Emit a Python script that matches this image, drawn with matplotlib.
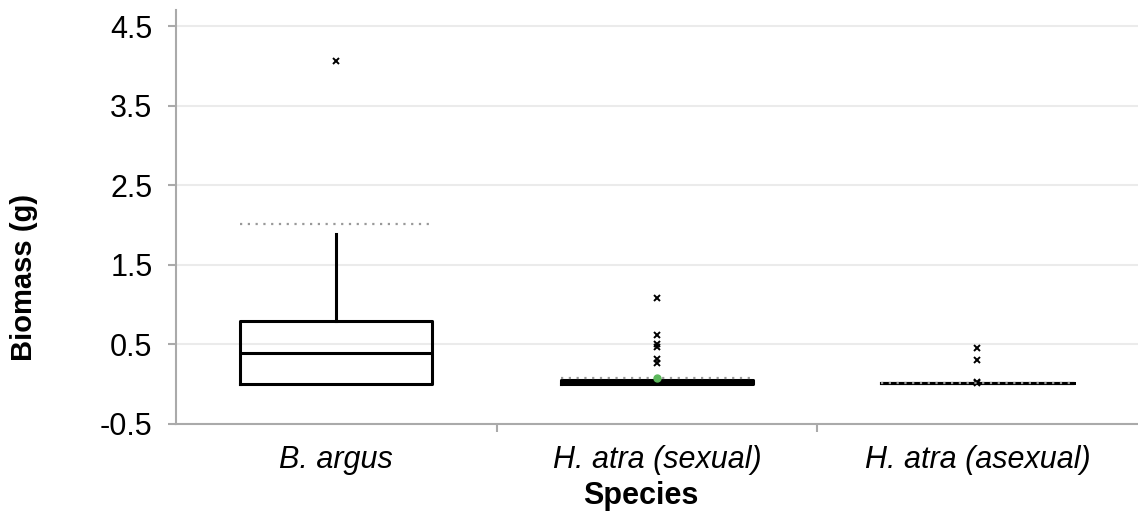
import matplotlib.pyplot as plt
import numpy as np

plt.rcParams['font.family'] = ['Liberation Sans', 'DejaVu Sans']

# data
species = ['B. argus', 'H. atra (sexual)', 'H. atra (asexual)']
q1 = [0.0, 0.0, 0.02]
med = [0.39, 0.02, 0.02]
q3 = [0.80, 0.055, 0.02]
whis_lo = [0.0, 0.0, 0.02]
whis_hi = [1.89, 0.055, 0.02]
outliers = [[4.06],
            [1.08, 0.62, 0.51, 0.47, 0.31, 0.27],
            [0.45, 0.30, 0.03, 0.02]]
cutoff = [2.01, 0.08, 0.02]   # grey dotted lines
mean_sexual = 0.08

stats = []
for i in range(3):
    stats.append(dict(label=species[i], q1=q1[i], med=med[i], q3=q3[i],
                      whislo=whis_lo[i], whishi=whis_hi[i], fliers=outliers[i]))

fig = plt.figure(figsize=(11.38, 5.12), dpi=100)
ax = fig.add_axes([0.1547, 0.172, 0.845, 0.808])

pos = np.arange(1, 4)
w = 0.6
ax.bxp(stats, positions=pos, widths=w, showcaps=False,
       boxprops=dict(color='black', linewidth=2.2),
       medianprops=dict(color='black', linewidth=2.2),
       whiskerprops=dict(color='black', linewidth=2.2),
       flierprops=dict(marker='x', markersize=4.5, markeredgecolor='black',
                       markeredgewidth=1.4, linestyle='none'),
       zorder=3)

# thick bar for the sexual group (very narrow box)
ax.hlines(0.025, pos[1] - w / 2, pos[1] + w / 2, color='black', linewidth=5, zorder=3)

for i in range(3):
    ax.hlines(cutoff[i], pos[i] - w / 2, pos[i] + w / 2, color='#999999',
              linestyle=(0, (1, 2.5)), linewidth=1.6, zorder=4)

ax.plot([pos[1]], [mean_sexual], 'o', color='#5cb85c', markersize=5, zorder=5)

ax.set_xlim(0.5, 3.5)
ax.set_ylim(-0.5, 4.7)
ax.set_yticks([-0.5, 0.5, 1.5, 2.5, 3.5, 4.5])
ax.set_yticklabels(['-0.5', '0.5', '1.5', '2.5', '3.5', '4.5'], fontsize=22)
ax.set_xticks(pos)
ax.set_xticklabels(species, fontsize=22, style='italic')
ax.tick_params(axis='x', length=0, pad=15)
ax.set_xticks([1.5, 2.5], minor=True)
ax.tick_params(axis='x', which='minor', length=6, color='#aaaaaa', width=1.5)
ax.tick_params(axis='y', length=6, color='#aaaaaa', width=1.5, pad=11)

ax.grid(axis='y', color='#ebebeb', linewidth=1.5, zorder=0)
ax.set_axisbelow(True)
for s in ['top', 'right']:
    ax.spines[s].set_visible(False)
for s in ['left', 'bottom']:
    ax.spines[s].set_color('#aaaaaa')
    ax.spines[s].set_linewidth(1.5)

ax.set_xlabel('Species', fontsize=22, fontweight='bold')
ax.xaxis.set_label_coords(0.4836, -0.137)
ax.set_ylabel('Biomass (g)', fontsize=21, fontweight='bold')
ax.yaxis.set_label_coords(-0.1435, 0.355)

fig.savefig('out.png', dpi=100)
